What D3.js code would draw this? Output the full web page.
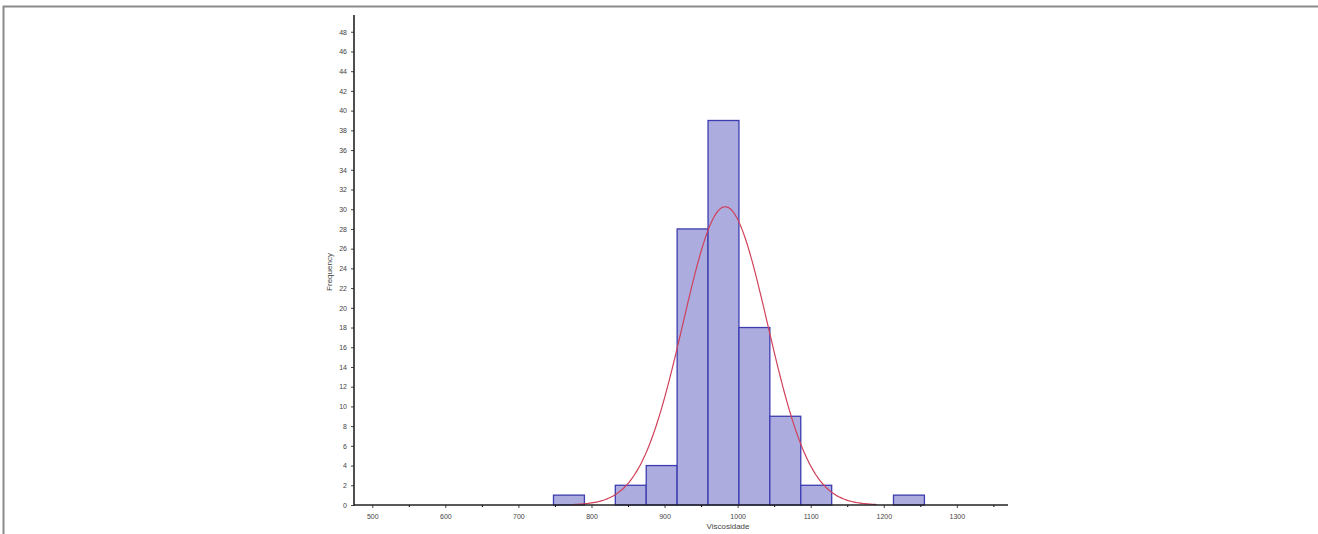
<!DOCTYPE html>
<html><head><meta charset="utf-8">
<script src="https://cdn.jsdelivr.net/npm/d3@7"></script>
<style>
html,body{margin:0;padding:0;background:#fff;}
svg{display:block;}
text{font-family:"Liberation Sans",Arial,sans-serif;fill:#444;}
</style></head>
<body>
<svg id="c" width="1318" height="534"></svg>
<script>
// Histogram data
const binStarts = [748, 790.3, 832.6, 874.9, 917.2, 959.5, 1001.8, 1044.1, 1086.4, 1128.7, 1171, 1213.3];
const binWidth = 42.3;
const counts = [1, 0, 2, 4, 28, 39, 18, 9, 2, 0, 0, 1];
// Fitted normal curve parameters
const fitMean = 983;
const fitSd = 58;
const nObs = 104;
const xTicks = [500, 600, 700, 800, 900, 1000, 1100, 1200, 1300];
const xMinorTicks = [550, 650, 750, 850, 950, 1050, 1150, 1250, 1350];
const yTicks = [0,2,4,6,8,10,12,14,16,18,20,22,24,26,28,30,32,34,36,38,40,42,44,46,48];
const xLabel = "Viscosidade";
const yLabel = "Frequency";

const svg = d3.select("#c");

// outer frame
svg.append("path").attr("d","M3.5,534 L3.5,6.5 L1318,6.5")
  .attr("fill","none").attr("stroke","#8a8a8a").attr("stroke-width",2);

const x = d3.scaleLinear().domain([475, 1370]).range([354, 1008]);
const y = d3.scaleLinear().domain([0, 49.7]).range([505, 15]);

// bars
svg.append("g").selectAll("rect")
  .data(binStarts.map((s,i)=>({s, c:counts[i]})).filter(d=>d.c>0))
  .join("rect")
  .attr("x", d=>x(d.s))
  .attr("y", d=>y(d.c))
  .attr("width", d=>x(d.s+binWidth)-x(d.s))
  .attr("height", d=>y(0)-y(d.c))
  .attr("fill","#acacdf")
  .attr("stroke","#3c3cb0")
  .attr("stroke-width",1.3);

// normal curve
const pts = d3.range(fitMean-3.6*fitSd, fitMean+3.6*fitSd+0.1, 2).map(v=>{
  const z=(v-fitMean)/fitSd;
  return [v, nObs*binWidth/(fitSd*Math.sqrt(2*Math.PI))*Math.exp(-0.5*z*z)];
});
svg.append("path")
  .attr("d", d3.line().x(d=>x(d[0])).y(d=>y(d[1])).curve(d3.curveBasis)(pts))
  .attr("fill","none").attr("stroke","#d0405a").attr("stroke-width",1.2);

// axes
const xAxis = svg.append("g").attr("transform","translate(0,505)")
  .call(d3.axisBottom(x).tickValues(xTicks).tickSize(3).tickFormat(d3.format("d")));
svg.append("g").attr("transform","translate(0,505)")
  .call(d3.axisBottom(x).tickValues(xMinorTicks).tickSize(2).tickFormat(""))
  .call(g=>g.select(".domain").remove());
const yAxis = svg.append("g").attr("transform","translate(354,0)")
  .call(d3.axisLeft(y).tickValues(yTicks).tickSize(3));
[xAxis,yAxis].forEach(g=>{
  g.select(".domain").remove();
  g.selectAll(".tick line").attr("stroke","#444");
  g.selectAll("text").attr("font-size","7px").attr("fill","#444")
   .attr("font-family","'Liberation Sans',Arial,sans-serif");
});
xAxis.selectAll("text").attr("dy","1.1em");
yAxis.selectAll("text").attr("dx","-1px");
svg.append("line").attr("x1",354).attr("x2",1008).attr("y1",505).attr("y2",505)
  .attr("stroke","#222").attr("stroke-width",1.6);
svg.append("line").attr("x1",354).attr("x2",354).attr("y1",15).attr("y2",505.8)
  .attr("stroke","#222").attr("stroke-width",1.6);

svg.append("text").attr("x",728).attr("y",529).attr("text-anchor","middle")
  .attr("font-size","8px").text(xLabel);
svg.append("text").attr("transform","translate(332,272) rotate(-90)")
  .attr("text-anchor","middle").attr("font-size","8px").text(yLabel);
</script>
</body></html>
